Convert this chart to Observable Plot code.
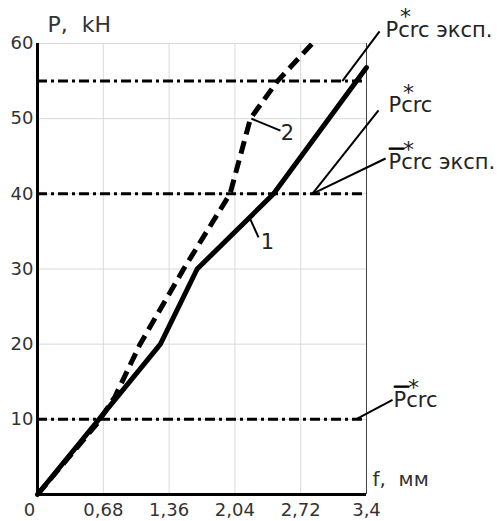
<!DOCTYPE html>
<html>
<head>
<meta charset="utf-8">
<script src="https://cdn.jsdelivr.net/npm/d3@7"></script>
<script src="https://cdn.jsdelivr.net/npm/@observablehq/plot@0.6"></script>
<style>
  html, body { margin: 0; padding: 0; background: #fff; }
  #chart { width: 499px; height: 521px; }
</style>
</head>
<body>
<div id="chart"></div>
<script>
// ---- data ----
const xTicks = [0.68, 1.36, 2.04, 2.72, 3.4];
const yTicks = [10, 20, 30, 40, 50, 60];
// curve 1 (solid)
const f1 = [0, 1.27, 1.65, 2.44, 3.4];
const p1 = [0, 20, 30, 40, 56.8];
// curve 2 (dashed)
const f2 = [0, 0.62, 0.8, 1.06, 1.51, 1.99, 2.2, 2.48, 2.84];
const p2 = [0, 9.5, 13, 20, 30, 40, 50, 55, 60];
// reference load levels (dash-dot)
const refLevels = [55, 40, 10];
// annotations of reference levels
const refLabels = ["Pcrc эксп.", "Pcrc", "Pcrc эксп.", "Pcrc"];
const refBar = [false, false, true, true];
const refAnchorF = [3.15, 2.84, 2.84, 3.29];
const refAnchorP = [55, 40, 40, 10];
// curve labels
const curveLabels = ["1", "2"];
const curveAnchorF = [2.2, 2.21];
const curveAnchorP = [36.6, 50];

// ---- layout (label placement, in axis units) ----
const refLayout = [
  {lf: 3.535, lp: 61.6, tf: 3.597, tp: 61.8},
  {lf: 3.524, lp: 51.1, tf: 3.627, tp: 51.75},
  {lf: 3.597, lp: 44.7, tf: 3.627, tp: 44.17},
  {lf: 3.669, lp: 12.6, tf: 3.679, tp: 12.5}
];
const curveLayout = [
  {lf: 2.284, lp: 34.2, tf: 2.377, tp: 33.5},
  {lf: 2.511, lp: 48.4, tf: 2.584, tp: 48.0}
];

const curve1 = f1.map((f, i) => ({f, p: p1[i]}));
const curve2 = f2.map((f, i) => ({f, p: p2[i]}));
const refs = refLabels.map((label, i) => ({
  label, bar: refBar[i], af: refAnchorF[i], ap: refAnchorP[i], ...refLayout[i]
}));
const curves = curveLabels.map((label, i) => ({
  label, af: curveAnchorF[i], ap: curveAnchorP[i], ...curveLayout[i]
}));
const fmt = d => String(d).replace(".", ",");
const FONT = "DejaVu Sans, sans-serif";

const chart = Plot.plot({
  width: 499,
  height: 521,
  marginLeft: 37,
  marginRight: 133,
  marginTop: 43,
  marginBottom: 27,
  style: {fontFamily: FONT, fontSize: "18px", color: "#333", background: "#fff", overflow: "visible"},
  x: {domain: [0, 3.4]},
  y: {domain: [0, 60]},
  marks: [
    // grid
    Plot.ruleX(xTicks.slice(0, -1), {y1: 0, y2: 60, stroke: "#d9d9d9", strokeWidth: 1}),
    Plot.ruleY(yTicks, {x1: 0, x2: 3.4, stroke: "#d9d9d9", strokeWidth: 1}),
    Plot.ruleX([3.4], {y1: 0, y2: 60, stroke: "#444", strokeWidth: 1}),
    // axes ticks labels
    Plot.axisX(xTicks, {tickSize: 0, tickPadding: 9, tickFormat: fmt, fontSize: 18, label: null, fill: "#333"}),
    Plot.axisY(yTicks, {tickSize: 0, tickPadding: 4, fontSize: 18, label: null, fill: "#333"}),
    Plot.text([0], {x: 0, y: 0, text: () => "0", dx: -8, dy: 16, fontSize: 18, fill: "#333"}),
    Plot.text(["P,  kH"], {x: 0, y: 60, text: d => d, dx: 10, dy: -19, textAnchor: "start", fontSize: 22, fill: "#333"}),
    Plot.text(["f,  мм"], {x: 3.4, y: 0, text: d => d, dx: 6, dy: -15, textAnchor: "start", fontSize: 20, fill: "#333"}),
    // reference dash-dot lines
    Plot.ruleY(refLevels, {x1: 0, x2: 3.4, stroke: "#000", strokeWidth: 3, strokeDasharray: "10,4,3,4"}),
    // curves
    Plot.line(curve1, {x: "f", y: "p", stroke: "#000", strokeWidth: 5, strokeLinejoin: "round"}),
    Plot.line(curve2, {x: "f", y: "p", stroke: "#000", strokeWidth: 5, strokeDasharray: "13,7", strokeLinecap: "butt"}),
    // axis lines
    Plot.ruleX([0], {y1: 0, y2: 60, stroke: "#000", strokeWidth: 3}),
    Plot.ruleY([0], {x1: 0, x2: 3.4, stroke: "#000", strokeWidth: 3}),
    // reference annotations
    Plot.link(refs, {x1: "af", y1: "ap", x2: "lf", y2: "lp", stroke: "#000", strokeWidth: 2}),
    Plot.text(refs, {x: "tf", y: "tp", text: "label", textAnchor: "start", fontSize: 21, fill: "#222"}),
    Plot.text(refs, {x: "tf", y: "tp", text: () => "*", dx: 20, dy: -13, textAnchor: "middle", fontSize: 22, fill: "#222"}),
    Plot.text(refs.filter(d => d.bar), {x: "tf", y: "tp", text: () => "—", dx: 0, dy: -15, textAnchor: "start", fontSize: 16, fill: "#000", stroke: "#000", strokeWidth: 1.2}),
    // curve labels
    Plot.link(curves, {x1: "af", y1: "ap", x2: "lf", y2: "lp", stroke: "#000", strokeWidth: 2}),
    Plot.text(curves, {x: "tf", y: "tp", text: "label", textAnchor: "middle", fontSize: 21, fill: "#222"})
  ]
});
document.getElementById("chart").appendChild(chart);
</script>
</body>
</html>
